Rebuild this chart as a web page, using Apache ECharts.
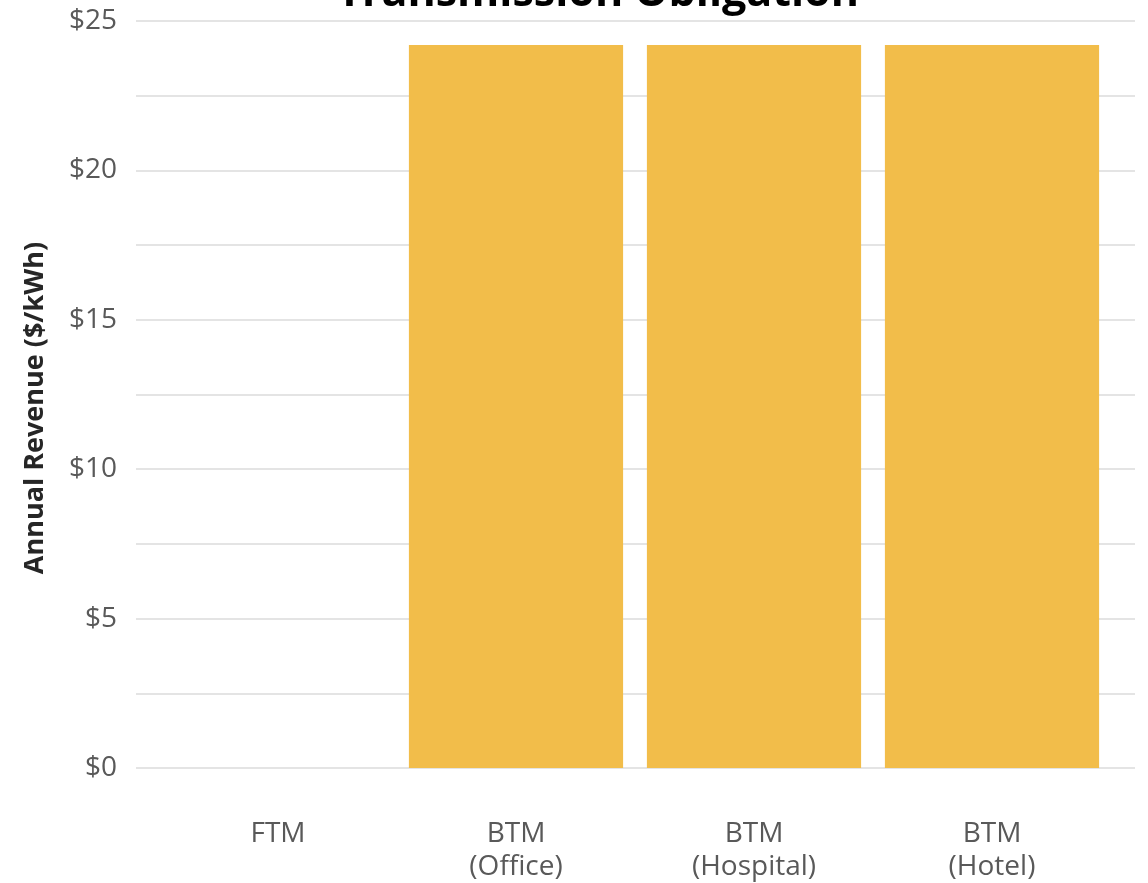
<!DOCTYPE html>
<html>
<head>
<meta charset="utf-8">
<script src="https://cdn.jsdelivr.net/npm/echarts@6/dist/echarts.min.js"></script>
<style>
  html, body { margin: 0; padding: 0; background: #fff; }
  #chart { width: 1148px; height: 883px; }
</style>
</head>
<body>
<div id="chart"></div>
<script>
// Annual revenue per kWh by deployment type
const categories = ['FTM', 'BTM\n(Office)', 'BTM\n(Hospital)', 'BTM\n(Hotel)'];
const revenue = [0, 24.2, 24.2, 24.2];
const yTicks = { min: 0, max: 25, step: 2.5, labelEvery: 5 };
const chartTitle = 'Transmission Obligation';
const yTitle = 'Annual Revenue ($/kWh)';

const FONT = '"Open Sans", sans-serif';
const chart = echarts.init(document.getElementById('chart'));

chart.setOption({
  backgroundColor: '#ffffff',
  animation: false,
  graphic: [
    {
      type: 'text',
      x: 598,
      y: -28,
      style: {
        text: chartTitle,
        align: 'center',
        verticalAlign: 'top',
        fontFamily: FONT,
        fontWeight: 'bold',
        fontSize: 43,
        fill: '#000000'
      }
    },
    {
      type: 'text',
      x: 35,
      y: 408,
      rotation: Math.PI / 2,
      style: {
        text: yTitle,
        align: 'center',
        verticalAlign: 'middle',
        fontFamily: FONT,
        fontWeight: 'bold',
        fontSize: 27,
        fill: '#262626'
      }
    }
  ],
  grid: [
    { left: 136, right: 13, top: 21, bottom: 115, containLabel: false, outerBoundsMode: 'none' },
    { left: 159, right: 37, top: 21, bottom: 115, containLabel: false, outerBoundsMode: 'none' }
  ],
  xAxis: [
    { gridIndex: 0, type: 'value', show: false },
    {
      gridIndex: 1,
      type: 'category',
      data: categories,
      axisLine: { show: false },
      axisTick: { show: false },
      axisLabel: {
        fontFamily: FONT,
        fontSize: 28,
        color: '#595959',
        lineHeight: 33,
        margin: 50
      }
    }
  ],
  yAxis: [
    {
      gridIndex: 0,
      type: 'value',
      min: yTicks.min,
      max: yTicks.max,
      interval: yTicks.step,
      axisLine: { show: false },
      axisTick: { show: false },
      splitLine: { lineStyle: { color: '#e4e4e4', width: 2 } },
      axisLabel: {
        fontFamily: FONT,
        fontSize: 28,
        color: '#595959',
        margin: 19,
        formatter: v => (Math.abs(v % yTicks.labelEvery) < 1e-9 ? '$' + v : '')
      }
    },
    {
      gridIndex: 1,
      type: 'value',
      min: yTicks.min,
      max: yTicks.max,
      interval: yTicks.step,
      show: false
    }
  ],
  series: [{
    type: 'bar',
    xAxisIndex: 1,
    yAxisIndex: 1,
    data: revenue,
    barCategoryGap: '10%',
    itemStyle: { color: '#F2BD4A' }
  }]
});
</script>
</body>
</html>
